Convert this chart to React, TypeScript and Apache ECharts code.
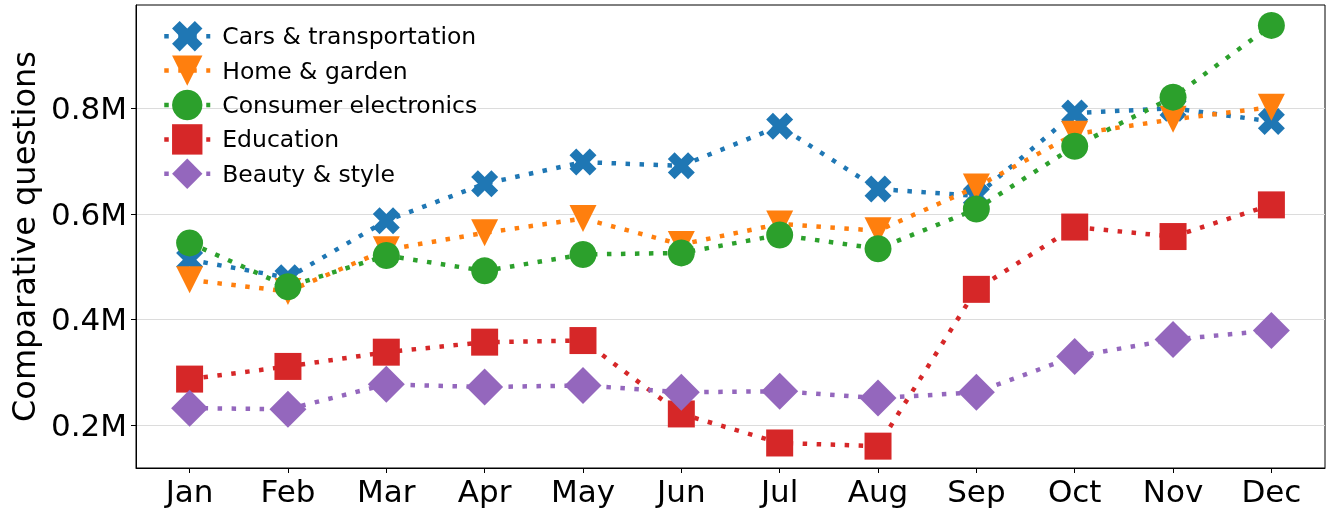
import React, { useEffect, useRef } from "react";
import * as echarts from "echarts";

const months = ["Jan", "Feb", "Mar", "Apr", "May", "Jun", "Jul", "Aug", "Sep", "Oct", "Nov", "Dec"];
const seriesNames = ["Cars & transportation", "Home & garden", "Consumer electronics", "Education", "Beauty & style"];
const cars = [0.513, 0.479, 0.587, 0.657, 0.698, 0.691, 0.766, 0.647, 0.634, 0.791, 0.8, 0.775];
const home = [0.475, 0.453, 0.532, 0.564, 0.591, 0.542, 0.581, 0.568, 0.651, 0.751, 0.779, 0.802];
const electronics = [0.545, 0.462, 0.521, 0.492, 0.523, 0.526, 0.56, 0.534, 0.609, 0.728, 0.821, 0.957];
const education = [0.287, 0.311, 0.338, 0.357, 0.36, 0.221, 0.166, 0.16, 0.457, 0.575, 0.557, 0.617];
const beauty = [0.232, 0.23, 0.277, 0.272, 0.275, 0.262, 0.264, 0.251, 0.262, 0.33, 0.362, 0.379];
const yTicks = [0.2, 0.4, 0.6, 0.8];

const colors = ["#1f77b4", "#ff7f0e", "#2ca02c", "#d62728", "#9467bd"];
const xPath = "path://M-1,-2L0,-1L1,-2L2,-1L1,0L2,1L1,2L0,1L-1,2L-2,1L-1,0L-2,-1Z";
const symbols = [xPath, "triangle", "circle", "rect", "diamond"];
const symbolSizes = [27, 27, 27, 27, 37];
const symbolRotates = [0, 180, 0, 0, 0];

export default function App() {
  const ref = useRef<HTMLDivElement>(null);
  useEffect(() => {
    if (!ref.current) return;
    const chart = echarts.init(ref.current, null, { renderer: "svg" });
    const all = [cars, home, electronics, education, beauty];
    const font = "DejaVu Sans";
    chart.setOption({
      animation: false,
      textStyle: { fontFamily: font },
      grid: { left: 136, right: 2, top: 5, bottom: 40, show: true, borderColor: "#000", borderWidth: 1 },
      legend: {
        orient: "vertical",
        left: 157,
        top: 16,
        itemWidth: 46,
        itemHeight: 38,
        itemGap: 4,
        lineStyle: { width: 4.5, type: [4.5, 9.5] },
        textStyle: { fontSize: 23.5, color: "#000", fontFamily: font, padding: [0, 0, 0, 7] },
        data: seriesNames,
      },
      xAxis: {
        type: "value",
        min: -0.545,
        max: 11.545,
        axisLine: { show: true, onZero: false, lineStyle: { color: "#000" } },
        axisTick: { show: true, length: 5, customValues: months.map((_, i) => i), lineStyle: { color: "#000" } },
        axisLabel: {
          customValues: months.map((_, i) => i),
          formatter: (v: number) => months[Math.round(v)] ?? "",
          fontSize: 31,
          color: "#000",
          margin: 7,
          fontFamily: font,
        },
        splitLine: { show: false },
      },
      yAxis: {
        type: "value",
        min: 0.1186,
        max: 0.9956,
        name: "Comparative questions",
        nameLocation: "middle",
        nameGap: 87,
        nameTextStyle: { fontSize: 32, color: "#000", fontFamily: font },
        axisLine: { show: true, onZero: false, lineStyle: { color: "#000" } },
        axisTick: { show: true, length: 5, customValues: yTicks, lineStyle: { color: "#000" } },
        axisLabel: {
          customValues: yTicks,
          formatter: (v: number) => v.toFixed(1) + "M",
          fontSize: 31,
          color: "#000",
          margin: 9,
          fontFamily: font,
        },
        splitLine: { show: true, lineStyle: { color: "#dcdcdc", width: 1 } },
      },
      series: seriesNames.map((name, si) => ({
        name,
        type: "line",
        z: 2 + si,
        data: all[si].map((v, i) => [i, v]),
        symbol: symbols[si],
        symbolSize: symbolSizes[si],
        symbolRotate: symbolRotates[si],
        showAllSymbol: true,
        color: colors[si],
        itemStyle: { color: colors[si], opacity: 1 },
        lineStyle: { color: colors[si], width: 4.5, type: [4.5, 9.5] },
        emphasis: { disabled: true },
      })),
    });
    return () => chart.dispose();
  }, []);
  return <div ref={ref} style={{ position: "fixed", left: 0, top: 0, width: 1327, height: 508 }} />;
}
